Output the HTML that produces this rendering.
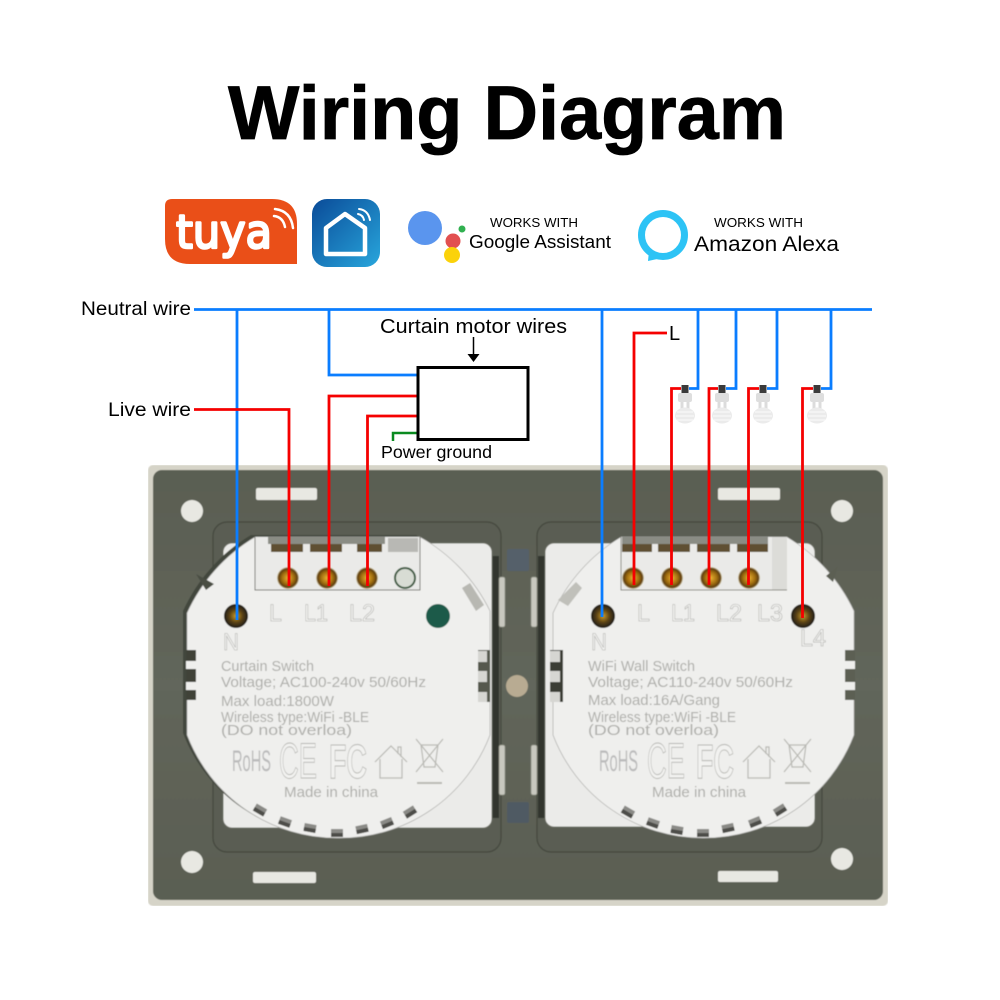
<!DOCTYPE html>
<html><head><meta charset="utf-8"><style>
html,body{margin:0;padding:0;background:#fff}
svg{display:block}
text{font-family:"Liberation Sans",sans-serif}
.em{fill:#aeaeaa;font-size:14.5px}
.lab{fill:#f4f4f2;stroke:#adadaa;stroke-width:.6;font-size:24px}
.big{fill:#f2f2f0;stroke:#b5b5b1;stroke-width:.9}
</style></head><body>
<svg width="1000" height="1000" viewBox="0 0 1000 1000" xmlns="http://www.w3.org/2000/svg">
<defs>
<linearGradient id="pl" x1="0" y1="0" x2="0" y2="1"><stop offset="0" stop-color="#5a5e52"/><stop offset=".5" stop-color="#62665b"/><stop offset="1" stop-color="#5a5e52"/></linearGradient>
<linearGradient id="ap" x1="0" y1="0" x2="1" y2="1"><stop offset="0" stop-color="#0a4b98"/><stop offset="1" stop-color="#28a6dc"/></linearGradient>
<radialGradient id="gold"><stop offset="0" stop-color="#e8b030"/><stop offset=".55" stop-color="#a06d10"/><stop offset=".85" stop-color="#5e3d0a"/><stop offset="1" stop-color="#d9cfa8"/></radialGradient>
<radialGradient id="hole"><stop offset="0" stop-color="#c89a30"/><stop offset=".55" stop-color="#5a4212"/><stop offset="1" stop-color="#1c1a12"/></radialGradient>
<filter id="soft" x="0" y="0" width="100%" height="100%"><feGaussianBlur stdDeviation=".45"/></filter>
<g id="bulb">
<rect x="-3.500" y="-3" width="7" height="8" fill="#3a3a3a"/>
<rect x="-7" y="5" width="14" height="9" rx="2" fill="#dedede"/>
<rect x="-4.500" y="14" width="3" height="7" fill="#dcdcdc"/><rect x="1.500" y="14" width="3" height="7" fill="#dcdcdc"/>
<ellipse cx="0" cy="27.500" rx="10" ry="8" fill="#ebebeb"/>
<path d="M-8 24h16M-9 28h18M-8 32h16" stroke="#f8f8f8" stroke-width="1.200"/>
</g>
<g id="tooth"><rect x="-6" y="-4" width="12" height="8" fill="#8a8a86"/><rect x="-6" y="0" width="12" height="4" fill="#4d4d48"/></g>
<g id="clip"><rect x="0" y="0" width="6" height="50" rx="2" fill="#c8c8bf" stroke="#8a8c80" stroke-width=".8"/></g>
<g id="house" fill="none" stroke="#b9b9b4" stroke-width="1.200">
<path d="M0 16L16 0 32 16M5 13V32H27V13M23 8V1h3v10"/>
<path d="M41 -7L68 26M68 -7L41 26M46 -1h17l-3 22H49z"/>
<path d="M42 37h25" stroke-width="2"/>
</g>
</defs>

<!-- title -->
<text x="228" y="139" font-size="76" font-weight="700" textLength="558" lengthAdjust="spacingAndGlyphs" fill="#000" stroke="#000" stroke-width=".8">Wiring Diagram</text>

<!-- tuya -->
<path d="M172 199H272Q297 199 297 224V264H190Q165 264 165 239V206Q165 199 172 199Z" fill="#ea4f18"/>
<text x="176" y="248" font-size="46" fill="#fff" stroke="#fff" stroke-width="2.500" stroke-linejoin="round" textLength="96" lengthAdjust="spacingAndGlyphs" style="font-family:'DejaVu Sans',sans-serif">tuya</text>
<g fill="none" stroke="#fff" stroke-width="2.500" stroke-linecap="round"><path d="M274 216q9 1 11 11"/><path d="M275 209q16 2 18 19"/></g>
<!-- smart app -->
<rect x="312" y="199" width="68" height="68" rx="15" fill="url(#ap)"/>
<path d="M326 228L345 214 365 228V254H326Z" fill="none" stroke="#fff" stroke-width="4.500" stroke-linejoin="round"/>
<g fill="none" stroke="#fff" stroke-width="2" stroke-linecap="round"><path d="M358 214q5 1 6 6"/><path d="M359 209q9 1 11 11"/></g>

<!-- google -->
<circle cx="425" cy="228" r="17" fill="#5a95ee"/>
<circle cx="462" cy="229" r="3.500" fill="#30b050"/>
<circle cx="453" cy="241" r="7.500" fill="#e25050"/>
<circle cx="452" cy="255" r="8" fill="#fbd20a"/>
<text x="490" y="227" font-size="13" textLength="88" lengthAdjust="spacingAndGlyphs">WORKS WITH</text>
<text x="469" y="248" font-size="18.500" textLength="142" lengthAdjust="spacingAndGlyphs">Google Assistant</text>
<!-- alexa -->
<circle cx="663" cy="235" r="21.500" fill="none" stroke="#2dc3f5" stroke-width="7"/>
<path d="M649 251L648 261 662 258Z" fill="#2dc3f5"/>
<text x="714" y="227" font-size="13" textLength="89" lengthAdjust="spacingAndGlyphs">WORKS WITH</text>
<text x="694" y="251" font-size="21.500" textLength="145" lengthAdjust="spacingAndGlyphs">Amazon Alexa</text>

<g filter="url(#soft)">
<!-- plate -->
<rect x="148" y="465" width="740" height="441" rx="5" fill="#d6d4c8"/>
<rect x="153" y="470" width="730" height="430" rx="9" fill="url(#pl)"/>
<rect x="213" y="522" width="288" height="330" rx="14" fill="#5a5d52" stroke="#44473d" stroke-width="1.200"/>
<rect x="537" y="522" width="285" height="330" rx="14" fill="#5a5d52" stroke="#44473d" stroke-width="1.200"/>
<rect x="492" y="556" width="7" height="262" fill="#33352e"/>
<rect x="538" y="556" width="7" height="262" fill="#33352e"/>
<!-- holes / tabs -->
<g fill="#e8e8e2"><circle cx="192" cy="511" r="11"/><circle cx="192" cy="862" r="11"/><circle cx="842" cy="511" r="11"/><circle cx="842" cy="859" r="11"/>
<rect x="256" y="488" width="61" height="12" rx="2"/><rect x="253" y="872" width="63" height="11" rx="2"/><rect x="718" y="488" width="62" height="12" rx="2"/><rect x="718" y="871" width="60" height="11" rx="2"/></g>
<!-- centre -->
<rect x="507" y="549" width="22" height="22" rx="2" fill="#55606b"/><rect x="507" y="802" width="22" height="21" rx="2" fill="#4f5a64"/>
<circle cx="517" cy="686" r="11" fill="#b8ab92"/>
<use href="#clip" x="499" y="577"/><use href="#clip" x="531" y="577"/><use href="#clip" x="499" y="745"/><use href="#clip" x="531" y="745"/>

<!-- left module -->
<rect x="223" y="543" width="269" height="285" rx="9" fill="#ebebe9" stroke="#6d6f65" stroke-width="1"/>
<path transform="translate(-4 -2)" d="M255 537H420A171 171 0 0 1 490 611V735A160 160 0 0 1 338 838A160 160 0 0 1 187 735V613A171 171 0 0 1 255 537Z" fill="#43463c"/>
<path d="M255 537H420A171 171 0 0 1 490 611V735A160 160 0 0 1 338 838A160 160 0 0 1 187 735V613A171 171 0 0 1 255 537Z" fill="#efefed" stroke="#adadaa" stroke-width=".7"/>
<path d="M196 574L214 584 206 590Z" fill="#4a4d43"/>
<rect x="186" y="650" width="10" height="50" fill="#3f4238"/>
<rect x="186" y="661" width="10" height="8" fill="#efefed"/><rect x="186" y="682" width="10" height="8" fill="#efefed"/>
<rect x="478" y="650" width="12" height="52" fill="#55584d"/>
<g fill="#d6d6d2"><rect x="478" y="651" width="9" height="11"/><rect x="478" y="671" width="9" height="11"/><rect x="478" y="692" width="9" height="10"/></g>
<rect x="255" y="537" width="165" height="53" fill="#eaeae8"/>
<path d="M255 537V590H420V537" fill="none" stroke="#77776f" stroke-width="1"/>
<rect x="268" y="537" width="117" height="7" fill="#8a8c84"/>
<g fill="#5f4f30"><rect x="271" y="544" width="32" height="8"/><rect x="310" y="544" width="32" height="8"/><rect x="357" y="544" width="25" height="8"/></g>
<rect x="388" y="538" width="30" height="14" fill="#b8b8b4"/>
<circle cx="288" cy="578" r="11" fill="url(#gold)"/><circle cx="327" cy="578" r="11" fill="url(#gold)"/><circle cx="367" cy="578" r="11" fill="url(#gold)"/>
<circle cx="405" cy="578" r="10" fill="#d8dcd4" stroke="#3c5a40" stroke-width="2"/>
<circle cx="236" cy="616" r="12" fill="url(#hole)"/>
<circle cx="438" cy="616" r="12" fill="#1d5a4a"/>
<path d="M462 588l8-5 14 22-8 6z" fill="#b8b8b2"/>
<text class="lab" x="269" y="621" textLength="13" lengthAdjust="spacingAndGlyphs">L</text><text class="lab" x="304" y="621" textLength="24" lengthAdjust="spacingAndGlyphs">L1</text><text class="lab" x="349" y="621" textLength="26" lengthAdjust="spacingAndGlyphs">L2</text><text class="lab" x="223" y="650" textLength="16" lengthAdjust="spacingAndGlyphs">N</text>
<text class="em" x="221" y="671" textLength="93" lengthAdjust="spacingAndGlyphs">Curtain Switch</text>
<text class="em" x="221" y="687" textLength="205" lengthAdjust="spacingAndGlyphs">Voltage; AC100-240v 50/60Hz</text>
<text class="em" x="221" y="706" textLength="113" lengthAdjust="spacingAndGlyphs">Max load:1800W</text>
<text class="em" x="221" y="722" textLength="148" lengthAdjust="spacingAndGlyphs">Wireless type:WiFi -BLE</text>
<text class="em" x="221" y="735" textLength="131" lengthAdjust="spacingAndGlyphs">(DO not overloa)</text>
<text x="232" y="771" font-size="30" fill="#bbb" textLength="39" lengthAdjust="spacingAndGlyphs">RoHS</text>
<text class="big" x="279" y="778" font-size="50" textLength="38" lengthAdjust="spacingAndGlyphs">CE</text>
<text class="big" x="329" y="778" font-size="48" font-weight="700" textLength="38" lengthAdjust="spacingAndGlyphs">FC</text>
<use href="#house" x="375" y="746"/>
<text class="em" x="284" y="797" textLength="94" lengthAdjust="spacingAndGlyphs">Made in china</text>
<use href="#tooth" transform="translate(260 810) rotate(30)"/><use href="#tooth" transform="translate(285 822) rotate(20)"/><use href="#tooth" transform="translate(310 828) rotate(10)"/><use href="#tooth" transform="translate(337 833)"/><use href="#tooth" transform="translate(362 829) rotate(-12)"/><use href="#tooth" transform="translate(387 823) rotate(-22)"/><use href="#tooth" transform="translate(410 812) rotate(-32)"/>

<!-- right module -->
<rect x="545" y="543" width="270" height="284" rx="9" fill="#ebebe9" stroke="#6d6f65" stroke-width="1"/>
<path d="M621 537H787A171 171 0 0 1 854 611V735A160 160 0 0 1 703 838A160 160 0 0 1 553 735V613A171 171 0 0 1 621 537Z" fill="#efefed" stroke="#adadaa" stroke-width=".7"/>
<path d="M838 566L826 576 833 582Z" fill="#5b5e53"/>
<rect x="845" y="650" width="10" height="50" fill="#5b5e53"/>
<rect x="845" y="661" width="10" height="8" fill="#efefed"/><rect x="845" y="682" width="10" height="8" fill="#efefed"/>
<rect x="550" y="650" width="13" height="52" fill="#3a3c34"/>
<g fill="#d6d6d2"><rect x="550" y="651" width="10" height="11"/><rect x="550" y="671" width="10" height="11"/><rect x="550" y="692" width="10" height="10"/></g>
<rect x="621" y="537" width="151" height="53" fill="#eaeae8"/>
<rect x="772" y="537" width="15" height="53" fill="#dcdcd8"/>
<path d="M621 537V590H787" fill="none" stroke="#88887f" stroke-width="1"/>
<rect x="622" y="537" width="146" height="7" fill="#8a8c84"/>
<g fill="#5f4f30"><rect x="622" y="544" width="30" height="8"/><rect x="658" y="544" width="32" height="8"/><rect x="697" y="544" width="33" height="8"/><rect x="737" y="544" width="31" height="8"/></g>
<circle cx="633" cy="578" r="11" fill="url(#gold)"/><circle cx="672" cy="578" r="11" fill="url(#gold)"/><circle cx="711" cy="578" r="11" fill="url(#gold)"/><circle cx="749" cy="578" r="11" fill="url(#gold)"/>
<circle cx="603" cy="616" r="12" fill="url(#hole)"/><circle cx="803" cy="616" r="12" fill="url(#hole)"/>
<path d="M558 600l18-18 6 6-14 18z" fill="#c0c0ba"/>
<text class="lab" x="637" y="621" textLength="13" lengthAdjust="spacingAndGlyphs">L</text><text class="lab" x="671" y="621" textLength="24" lengthAdjust="spacingAndGlyphs">L1</text><text class="lab" x="716" y="621" textLength="26" lengthAdjust="spacingAndGlyphs">L2</text><text class="lab" x="757" y="621" textLength="26" lengthAdjust="spacingAndGlyphs">L3</text><text class="lab" x="591" y="650" textLength="16" lengthAdjust="spacingAndGlyphs">N</text><text class="lab" x="800" y="646" textLength="26" lengthAdjust="spacingAndGlyphs">L4</text>
<text class="em" x="588" y="671" textLength="107" lengthAdjust="spacingAndGlyphs">WiFi Wall Switch</text>
<text class="em" x="588" y="687" textLength="205" lengthAdjust="spacingAndGlyphs">Voltage; AC110-240v 50/60Hz</text>
<text class="em" x="588" y="705" textLength="132" lengthAdjust="spacingAndGlyphs">Max load:16A/Gang</text>
<text class="em" x="588" y="722" textLength="148" lengthAdjust="spacingAndGlyphs">Wireless type:WiFi -BLE</text>
<text class="em" x="588" y="735" textLength="131" lengthAdjust="spacingAndGlyphs">(DO not overloa)</text>
<text x="599" y="771" font-size="30" fill="#bbb" textLength="39" lengthAdjust="spacingAndGlyphs">RoHS</text>
<text class="big" x="647" y="778" font-size="50" textLength="38" lengthAdjust="spacingAndGlyphs">CE</text>
<text class="big" x="696" y="778" font-size="48" font-weight="700" textLength="38" lengthAdjust="spacingAndGlyphs">FC</text>
<use href="#house" x="743" y="746"/>
<text class="em" x="652" y="797" textLength="94" lengthAdjust="spacingAndGlyphs">Made in china</text>
<use href="#tooth" transform="translate(628 812) rotate(30)"/><use href="#tooth" transform="translate(653 823) rotate(20)"/><use href="#tooth" transform="translate(677 830) rotate(10)"/><use href="#tooth" transform="translate(703 833)"/><use href="#tooth" transform="translate(728 828) rotate(-12)"/><use href="#tooth" transform="translate(755 822) rotate(-22)"/><use href="#tooth" transform="translate(780 810) rotate(-32)"/>
</g>

<!-- bulbs -->
<use href="#bulb" x="685" y="388"/><use href="#bulb" x="722" y="388"/><use href="#bulb" x="763" y="388"/><use href="#bulb" x="817" y="388"/>

<!-- wires -->
<g stroke="#0a7dff" style="fill:none;stroke-width:2.800">
<path d="M194 309.500H872"/>
<path d="M237 309V620"/>
<path d="M329 309V375H417"/>
<path d="M602 309V617"/>
<path d="M698 309V388.500H689"/><path d="M736 309V388.500H726"/><path d="M777 309V388.500H767"/><path d="M831 309V388.500H821"/>
</g>
<g stroke="#f50000" style="fill:none;stroke-width:2.800">
<path d="M194 409.500H289V586"/>
<path d="M417 396H329V586"/>
<path d="M417 416H367.500V586"/>
<path d="M667 333H634V585"/>
<path d="M681 388.500H671.500V585"/><path d="M718 388.500H709V585"/><path d="M759 388.500H748.500V585"/><path d="M813 388.500H802.500V618"/>
</g>
<path d="M417 433H393V441" fill="none" stroke="#0a8a20" stroke-width="2.500"/>
<rect x="418" y="367.500" width="110" height="72" fill="#fff" stroke="#000" stroke-width="3"/>
<path d="M473.500 337V355" stroke="#000" stroke-width="1.500"/><path d="M467.500 354H479.500L473.500 362Z" fill="#000"/>

<!-- labels -->
<text x="81" y="315" font-size="19.500" textLength="110" lengthAdjust="spacingAndGlyphs">Neutral wire</text>
<text x="108" y="416" font-size="19.500" textLength="83" lengthAdjust="spacingAndGlyphs">Live wire</text>
<text x="380" y="333" font-size="20" textLength="187" lengthAdjust="spacingAndGlyphs">Curtain motor wires</text>
<text x="381" y="458" font-size="17.500" textLength="111" lengthAdjust="spacingAndGlyphs">Power ground</text>
<text x="669" y="340" font-size="20">L</text>
</svg>
</body></html>
